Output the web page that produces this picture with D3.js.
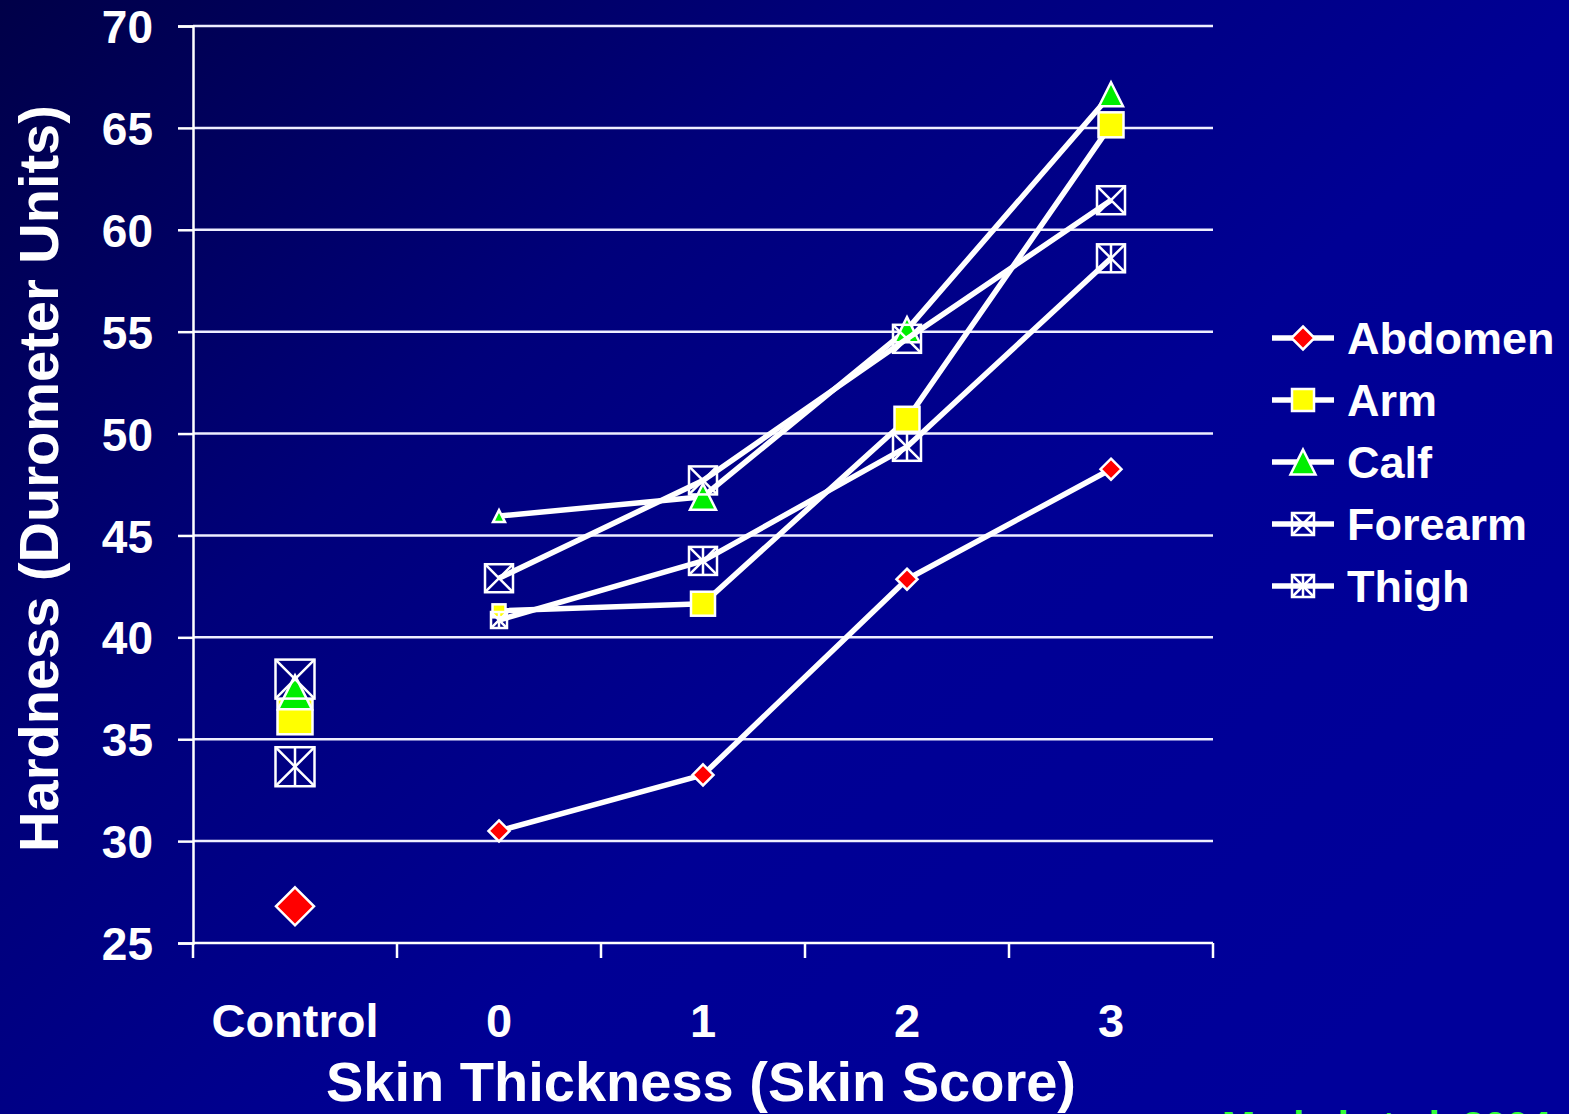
<!DOCTYPE html>
<html>
<head>
<meta charset="utf-8">
<script src="https://cdn.jsdelivr.net/npm/d3@7"></script>
<style>
  html, body { margin: 0; padding: 0; background: #000080; }
  svg { display: block; }
  text { font-family: "Liberation Sans", Arial, sans-serif; font-weight: bold; fill: #ffffff; }
</style>
</head>
<body>
<svg id="chart" width="1569" height="1114"></svg>
<script>
// Skin hardness (durometer units) by skin thickness score
const categories = ["Control", "0", "1", "2", "3"];
const yTicks = [25, 30, 35, 40, 45, 50, 55, 60, 65, 70];
const seriesNames = ["Abdomen", "Arm", "Calf", "Forearm", "Thigh"];

const abdomen = [26.8, 30.5, 33.25, 42.85, 48.25];
const arm     = [36.1, 41.3, 41.65, 50.7, 65.15];
const calf    = [37.3, 45.95, 46.9, 55.1, 66.65];
const forearm = [37.95, 42.9, 47.7, 54.65, 61.45];
const thigh   = [33.65, 40.85, 43.75, 49.35, 58.6];

const seriesValues = [abdomen, arm, calf, forearm, thigh];
const citation = "Merkel et al. 2004";

// marker appearance per series (shape, fill, per-point pixel size)
const markerStyle = {
  Abdomen: { shape: "diamond", fill: "#ff0000", sizes: [38, 21, 21, 21, 21] },
  Arm:     { shape: "square",  fill: "#ffff00", sizes: [35, 13, 24, 25, 25] },
  Calf:    { shape: "triangle", fill: "#00ee00", sizes: [34, 12, 26, 25, 24] },
  Forearm: { shape: "boxX",    fill: "none",    sizes: [39, 28, 28, 28, 28] },
  Thigh:   { shape: "boxStar", fill: "none",    sizes: [39, 16, 28, 28, 28] }
};

const W = 1569, H = 1114;
const svg = d3.select("#chart");

// background: dark navy toward the upper left, brighter blue elsewhere
const defs = svg.append("defs");
const grad = defs.append("linearGradient")
  .attr("id", "bg").attr("x1", "0").attr("y1", "0").attr("x2", "1").attr("y2", "0.75");
grad.append("stop").attr("offset", "0").attr("stop-color", "#000048");
grad.append("stop").attr("offset", "0.35").attr("stop-color", "#00007a");
grad.append("stop").attr("offset", "0.65").attr("stop-color", "#000094");
grad.append("stop").attr("offset", "1").attr("stop-color", "#00009a");
svg.append("rect").attr("width", W).attr("height", H).attr("fill", "url(#bg)");

const plot = { left: 193, right: 1213, top: 26, bottom: 943 };

const x = d3.scaleBand().domain(categories).range([plot.left, plot.right]).padding(0);
const y = d3.scaleLinear().domain([25, 70]).range([plot.bottom, plot.top]);
const cx = c => x(c) + x.bandwidth() / 2;

// horizontal gridlines
svg.append("g").selectAll("line")
  .data(yTicks.filter(t => t > 25))
  .join("line")
  .attr("x1", plot.left).attr("x2", plot.right)
  .attr("y1", d => y(d)).attr("y2", d => y(d))
  .attr("stroke", "#eeeeff").attr("stroke-width", 2.5);

// y axis
const yAxis = svg.append("g")
  .attr("transform", `translate(${plot.left},0)`)
  .call(d3.axisLeft(y).tickValues(yTicks).tickSize(15).tickPadding(25).tickFormat(d3.format("d")));
yAxis.select(".domain").attr("stroke", "#ffffff").attr("stroke-width", 2.5);
yAxis.selectAll(".tick line").attr("stroke", "#ffffff").attr("stroke-width", 2.5);
yAxis.selectAll(".tick text")
  .attr("fill", "#ffffff").attr("font-size", 46).attr("font-family", "Liberation Sans, Arial, sans-serif")
  .attr("font-weight", "bold").attr("dy", "0.36em");

// x axis baseline and tick marks at category boundaries
const xg = svg.append("g");
xg.append("line")
  .attr("x1", plot.left).attr("x2", plot.right)
  .attr("y1", plot.bottom).attr("y2", plot.bottom)
  .attr("stroke", "#ffffff").attr("stroke-width", 2.5);
const boundaries = categories.map(c => x(c)).concat([x.range()[1]]);
xg.selectAll("line.tk")
  .data(boundaries)
  .join("line").attr("class", "tk")
  .attr("x1", d => d).attr("x2", d => d)
  .attr("y1", plot.bottom).attr("y2", plot.bottom + 15)
  .attr("stroke", "#ffffff").attr("stroke-width", 2.5);
xg.selectAll("text")
  .data(categories)
  .join("text")
  .attr("x", d => cx(d)).attr("y", 1037)
  .attr("text-anchor", "middle").attr("font-size", 47)
  .text(d => d);

// axis titles
svg.append("text")
  .attr("x", (plot.left + plot.right) / 2 - 2).attr("y", 1101)
  .attr("text-anchor", "middle").attr("font-size", 56)
  .text("Skin Thickness (Skin Score)");
svg.append("text")
  .attr("transform", `translate(58,${(plot.top + plot.bottom) / 2 - 6}) rotate(-90)`)
  .attr("text-anchor", "middle").attr("font-size", 56)
  .text("Hardness (Durometer Units)");

// marker drawing
function drawMarker(g, shape, fill, s) {
  const h = s / 2;
  const sw = 2.5;
  if (shape === "diamond") {
    g.append("path").attr("d", `M0,${-h}L${h},0L0,${h}L${-h},0Z`)
      .attr("fill", fill).attr("stroke", "#ffffff").attr("stroke-width", sw);
  } else if (shape === "square") {
    g.append("rect").attr("x", -h).attr("y", -h).attr("width", s).attr("height", s)
      .attr("fill", fill).attr("stroke", "#ffffff").attr("stroke-width", sw);
  } else if (shape === "triangle") {
    g.append("path").attr("d", `M0,${-h}L${h},${h}L${-h},${h}Z`)
      .attr("fill", fill).attr("stroke", "#ffffff").attr("stroke-width", sw);
  } else {
    g.append("rect").attr("x", -h).attr("y", -h).attr("width", s).attr("height", s)
      .attr("fill", "none").attr("stroke", "#ffffff").attr("stroke-width", sw);
    g.append("path").attr("d", `M${-h},${-h}L${h},${h}M${h},${-h}L${-h},${h}`)
      .attr("stroke", "#ffffff").attr("stroke-width", sw);
    if (shape === "boxStar") {
      g.append("path").attr("d", `M0,${-h}L0,${h}`)
        .attr("stroke", "#ffffff").attr("stroke-width", sw);
    }
  }
}

const line = d3.line().x(d => cx(d.c)).y(d => y(d.v));

// series: lines join the skin-score points (0–3); control is a standalone point
seriesNames.forEach((name, i) => {
  const vals = seriesValues[i];
  const st = markerStyle[name];
  const pts = categories.map((c, j) => ({ c, v: vals[j], s: st.sizes[j] }));
  const g = svg.append("g");
  g.append("path")
    .datum(pts.slice(1))
    .attr("d", line)
    .attr("fill", "none").attr("stroke", "#ffffff").attr("stroke-width", 5.5)
    .attr("stroke-linejoin", "round");
  pts.forEach(p => {
    const mg = g.append("g").attr("transform", `translate(${cx(p.c)},${y(p.v)})`);
    drawMarker(mg, st.shape, st.fill, p.s);
  });
});

// legend
const legend = svg.append("g");
seriesNames.forEach((name, i) => {
  const ly = 338 + i * 62;
  const st = markerStyle[name];
  legend.append("line")
    .attr("x1", 1272).attr("x2", 1334).attr("y1", ly).attr("y2", ly)
    .attr("stroke", "#ffffff").attr("stroke-width", 5.5);
  const mg = legend.append("g").attr("transform", `translate(1303,${ly})`);
  drawMarker(mg, st.shape, st.fill, st.shape === "diamond" ? 23 : (st.shape === "triangle" ? 25 : 22));
  legend.append("text")
    .attr("x", 1347).attr("y", ly).attr("dy", "0.36em")
    .attr("font-size", 45)
    .text(name);
});

// source citation, partly running off the bottom edge
svg.append("text")
  .attr("x", 1222).attr("y", 1140)
  .attr("font-size", 40)
  .style("fill", "#33ff33")
  .text(citation);
</script>
</body>
</html>
